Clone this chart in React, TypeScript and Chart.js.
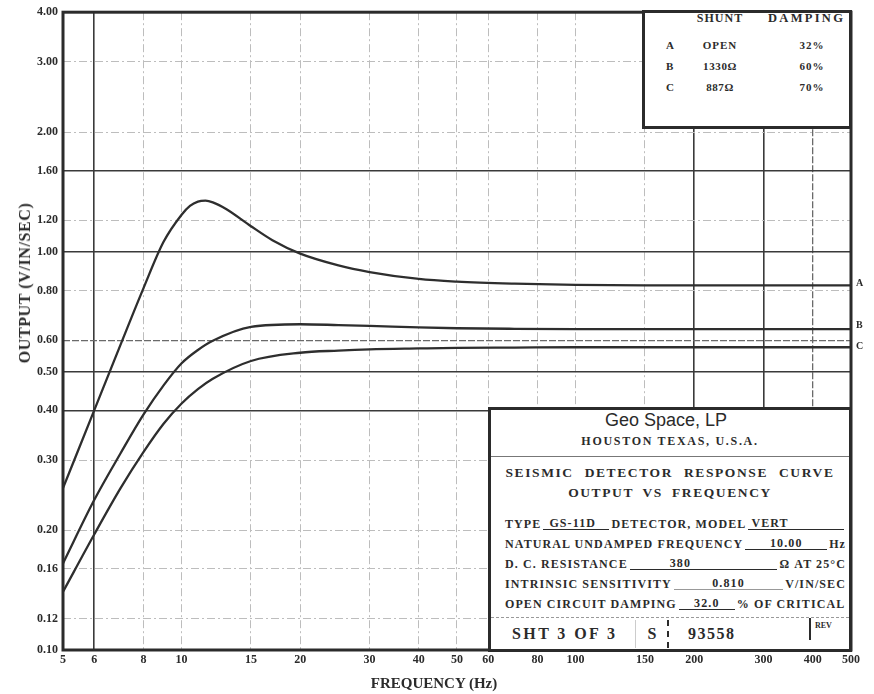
import React, { useEffect, useRef } from "react";
import { Chart, registerables } from "chart.js";

Chart.register(...registerables);

// ---- data (log-log response curves) ----
const FREQ_A = [5, 6, 7, 8, 9, 10, 10.5, 11, 11.5, 12, 13, 15, 17, 20, 25, 30, 40, 50, 70, 100, 150, 200, 300, 500];
const OUT_A = [0.255, 0.4, 0.585, 0.81, 1.06, 1.24, 1.305, 1.338, 1.345, 1.332, 1.28, 1.16, 1.07, 0.99, 0.925, 0.89, 0.855, 0.842, 0.832, 0.826, 0.824, 0.824, 0.824, 0.824];

const FREQ_B = [5, 6, 7, 8, 9, 10, 11, 12, 15, 20, 25, 30, 40, 50, 70, 100, 200, 500];
const OUT_B = [0.165, 0.238, 0.312, 0.39, 0.462, 0.525, 0.567, 0.598, 0.648, 0.658, 0.655, 0.652, 0.646, 0.643, 0.641, 0.64, 0.64, 0.64];

const FREQ_C = [5, 6, 7, 8, 9, 10, 11, 12, 15, 20, 25, 30, 40, 50, 70, 100, 200, 500];
const OUT_C = [0.14, 0.195, 0.255, 0.314, 0.37, 0.416, 0.452, 0.48, 0.532, 0.558, 0.565, 0.569, 0.572, 0.574, 0.575, 0.576, 0.576, 0.576];

const SERIES_NAMES = ["A", "B", "C"];
const X_TICKS = [5, 6, 8, 10, 15, 20, 30, 40, 50, 60, 80, 100, 150, 200, 300, 400, 500];
const Y_TICKS = [0.1, 0.12, 0.16, 0.2, 0.3, 0.4, 0.5, 0.6, 0.8, 1.0, 1.2, 1.6, 2.0, 3.0, 4.0];

const X_DARK = [6, 200, 300];
const X_MID = [400];
const Y_DARK = [1.6, 1.0, 0.5, 0.4];
const Y_MID = [0.6];

const SERIF = "'Liberation Serif', 'DejaVu Serif', 'Times New Roman', serif";
const SANS = "'Liberation Sans', Arial, sans-serif";
const INK = "#2b2b2b";
const GREY = "#bdbdbd";

function gridColor(dark: number[], mid: number[], edges: number[]) {
  return (c: any) => {
    const v = c.tick ? c.tick.value : null;
    if (edges.includes(v)) return "rgba(0,0,0,0)";
    if (dark.includes(v)) return "#3a3a3a";
    if (mid.includes(v)) return "#6a6a6a";
    return GREY;
  };
}
function gridWidth(dark: number[], mid: number[]) {
  return (c: any) => {
    const v = c.tick ? c.tick.value : null;
    if (dark.includes(v)) return 1.6;
    if (mid.includes(v)) return 1.3;
    return 1;
  };
}
function gridDash(dark: number[], mid: number[]) {
  return (c: any) => {
    const v = c.tick ? c.tick.value : null;
    if (dark.includes(v)) return [];
    if (mid.includes(v)) return [7, 2];
    return [8, 3, 2, 3];
  };
}

const framePlugin = {
  id: "frameAndLabels",
  afterDatasetsDraw(chart: any) {
    const { ctx, chartArea } = chart;
    const { left, right, top, bottom } = chartArea;
    ctx.save();
    ctx.strokeStyle = INK;
    ctx.lineWidth = 3;
    ctx.setLineDash([]);
    ctx.strokeRect(left, top, right - left, bottom - top);
    const ys = chart.scales.y;
    ctx.fillStyle = INK;
    ctx.font = `bold 10px ${SERIF}`;
    ctx.textBaseline = "middle";
    ctx.textAlign = "left";
    const offsets = [-2, -4, -1];
    chart.data.datasets.forEach((ds: any, i: number) => {
      const last = ds.data[ds.data.length - 1];
      const y = ys.getPixelForValue(last.y);
      ctx.fillText(SERIES_NAMES[i], right + 5, y + offsets[i]);
    });
    ctx.restore();
  },
};

function Txt(props: {
  x: number;
  y: number;
  size?: number;
  anchor?: "start" | "middle" | "end";
  weight?: number;
  family?: string;
  spacing?: number;
  wordSpacing?: number;
  children: React.ReactNode;
}) {
  const { x, y, size = 11, anchor = "middle", weight = 700, family = SERIF, spacing = 0, wordSpacing = 0, children } = props;
  const tx = anchor === "middle" ? "-50%" : anchor === "end" ? "-100%" : "0";
  return (
    <div
      style={{
        position: "absolute",
        left: x,
        top: y,
        transform: `translate(${tx}, -50%)`,
        fontSize: size,
        fontWeight: weight,
        fontFamily: family,
        letterSpacing: spacing,
        wordSpacing,
        whiteSpace: "nowrap",
        lineHeight: 1,
        color: INK,
      }}
    >
      {children}
    </div>
  );
}

function Field(props: { children: React.ReactNode; width?: number; align?: "left" | "center"; pad?: number; grey?: boolean }) {
  const { children, width, align = "center", pad = 0, grey = false } = props;
  return (
    <span
      style={{
        display: "inline-block",
        flex: width ? "0 0 auto" : "1 1 auto",
        width: width,
        textAlign: align,
        paddingLeft: pad,
        borderBottom: `1px solid ${grey ? "#999" : INK}`,
        lineHeight: "12px",
        margin: "0 2px",
      }}
    >
      {children}
    </span>
  );
}

function Row(props: { y: number; children: React.ReactNode }) {
  return (
    <div
      style={{
        position: "absolute",
        left: 505,
        top: props.y - 7,
        width: 341,
        height: 14,
        display: "flex",
        alignItems: "flex-end",
        fontFamily: SERIF,
        fontWeight: 700,
        fontSize: 12,
        letterSpacing: 1.1,
        whiteSpace: "nowrap",
        lineHeight: "12px",
        color: INK,
      }}
    >
      {props.children}
    </div>
  );
}

export default function App() {
  const canvasRef = useRef<HTMLCanvasElement | null>(null);

  useEffect(() => {
    document.body.style.margin = "0";
    const canvas = canvasRef.current;
    if (!canvas) return;
    const tickFont = { family: SERIF, size: 12, weight: "bold" as const };
    const mk = (fs: number[], vs: number[]) => fs.map((f, i) => ({ x: f, y: vs[i] }));
    const chart = new Chart(canvas, {
      type: "line",
      data: {
        datasets: [
          { label: "A", data: mk(FREQ_A, OUT_A) },
          { label: "B", data: mk(FREQ_B, OUT_B) },
          { label: "C", data: mk(FREQ_C, OUT_C) },
        ].map((d) => ({
          ...d,
          borderColor: "#2e2e2e",
          borderWidth: 2.3,
          pointRadius: 0,
          fill: false,
          cubicInterpolationMode: "monotone" as const,
        })),
      },
      options: {
        animation: false,
        responsive: false,
        devicePixelRatio: 1,
        layout: { padding: { top: 12, right: 23, left: 0, bottom: 0 } },
        plugins: { legend: { display: false }, tooltip: { enabled: false } },
        scales: {
          x: {
            type: "logarithmic",
            min: 5,
            max: 500,
            afterBuildTicks: (s: any) => {
              s.ticks = X_TICKS.map((value) => ({ value }));
            },
            afterFit: (s: any) => {
              s.height = 44;
            },
            ticks: {
              autoSkip: false,
              maxRotation: 0,
              padding: 3,
              font: tickFont,
              color: INK,
              callback: (v: any) => String(v),
            },
            grid: {
              drawTicks: false,
              color: gridColor(X_DARK, X_MID, [5, 500]),
              lineWidth: gridWidth(X_DARK, X_MID),
            },
            border: { display: false, dash: gridDash(X_DARK, X_MID) },
          },
          y: {
            type: "logarithmic",
            min: 0.1,
            max: 4,
            afterBuildTicks: (s: any) => {
              s.ticks = Y_TICKS.map((value) => ({ value }));
            },
            afterFit: (s: any) => {
              s.width = 63;
            },
            ticks: {
              autoSkip: false,
              padding: 5,
              font: tickFont,
              color: INK,
              callback: (v: any) => Number(v).toFixed(2),
            },
            grid: {
              drawTicks: false,
              color: gridColor(Y_DARK, Y_MID, [0.1, 4.0]),
              lineWidth: gridWidth(Y_DARK, Y_MID),
            },
            border: { display: false, dash: gridDash(Y_DARK, Y_MID) },
          },
        },
      },
      plugins: [framePlugin],
    });
    return () => chart.destroy();
  }, []);

  const box = (left: number, top: number, width: number, height: number): React.CSSProperties => ({
    position: "absolute",
    left,
    top,
    width,
    height,
    boxSizing: "border-box",
    border: `3px solid ${INK}`,
    background: "#fff",
  });

  return (
    <div style={{ position: "relative", width: 874, height: 694, background: "#fff", overflow: "hidden" }}>
      <canvas ref={canvasRef} width={874} height={694} style={{ position: "absolute", left: 0, top: 0 }} />

      {/* axis titles */}
      <div
        style={{
          position: "absolute",
          left: 25,
          top: 283,
          transform: "translate(-50%, -50%) rotate(-90deg)",
          fontFamily: SERIF,
          fontWeight: 700,
          fontSize: 16,
          letterSpacing: 0.6,
          whiteSpace: "nowrap",
          lineHeight: 1,
          color: INK,
        }}
      >
        OUTPUT (V/IN/SEC)
      </div>
      <Txt x={434} y={683} size={15}>
        FREQUENCY (Hz)
      </Txt>

      {/* shunt / damping table */}
      <div style={box(642, 10, 210, 119)} />
      <Txt x={720} y={18} size={12} spacing={1}>SHUNT</Txt>
      <Txt x={768} y={18} size={12.5} spacing={2.3} anchor="start">DAMPING</Txt>
      <Txt x={666} y={45} size={11} anchor="start">A</Txt>
      <Txt x={666} y={66} size={11} anchor="start">B</Txt>
      <Txt x={666} y={87} size={11} anchor="start">C</Txt>
      <Txt x={720} y={45} size={11} spacing={1}>OPEN</Txt>
      <Txt x={720} y={66} size={11} spacing={0.6}>1330Ω</Txt>
      <Txt x={720} y={87} size={11} spacing={0.6}>887Ω</Txt>
      <Txt x={812} y={45} size={11} spacing={1}>32%</Txt>
      <Txt x={812} y={66} size={11} spacing={1}>60%</Txt>
      <Txt x={812} y={87} size={11} spacing={1}>70%</Txt>

      {/* title block */}
      <div style={box(488, 407, 364, 245)} />
      <Txt x={666} y={420} size={18} weight={400} family={SANS}>Geo Space, LP</Txt>
      <Txt x={670} y={441} size={12} spacing={1.7}>HOUSTON TEXAS, U.S.A.</Txt>
      <div style={{ position: "absolute", left: 491, top: 456, width: 358, height: 0, borderTop: "1px solid #777" }} />
      <Txt x={670} y={473} size={13.5} spacing={1.6} wordSpacing={6}>SEISMIC DETECTOR RESPONSE CURVE</Txt>
      <Txt x={670} y={493} size={13.5} spacing={1.6} wordSpacing={4}>OUTPUT VS FREQUENCY</Txt>

      <Row y={523}>
        <span>TYPE</span>
        <Field width={60} align="left" pad={6}>GS-11D</Field>
        <span>DETECTOR, MODEL</span>
        <Field align="left" pad={3}>VERT</Field>
      </Row>
      <Row y={543}>
        <span>NATURAL UNDAMPED FREQUENCY</span>
        <Field>10.00</Field>
        <span>Hz</span>
      </Row>
      <Row y={563}>
        <span>D. C. RESISTANCE</span>
        <Field align="left" pad={40}>380</Field>
        <span>Ω AT 25°C</span>
      </Row>
      <Row y={583}>
        <span>INTRINSIC SENSITIVITY</span>
        <Field grey>0.810</Field>
        <span>V/IN/SEC</span>
      </Row>
      <Row y={603}>
        <span>OPEN CIRCUIT DAMPING</span>
        <Field width={56}>32.0</Field>
        <span>% OF CRITICAL</span>
      </Row>

      <div style={{ position: "absolute", left: 491, top: 617, width: 358, height: 0, borderTop: "1px dashed #999" }} />
      <Txt x={512} y={634} size={16} spacing={2.4} anchor="start">SHT 3 OF 3</Txt>
      <div style={{ position: "absolute", left: 635, top: 620, width: 0, height: 28, borderLeft: "1px solid #ccc" }} />
      <Txt x={652} y={634} size={16}>S</Txt>
      <div style={{ position: "absolute", left: 667, top: 620, width: 0, height: 28, borderLeft: `2px dashed ${INK}` }} />
      <Txt x={688} y={634} size={16} spacing={1.5} anchor="start">93558</Txt>
      <div style={{ position: "absolute", left: 809, top: 618, width: 0, height: 22, borderLeft: `2px solid ${INK}` }} />
      <Txt x={815} y={626} size={8} anchor="start">REV</Txt>
    </div>
  );
}
